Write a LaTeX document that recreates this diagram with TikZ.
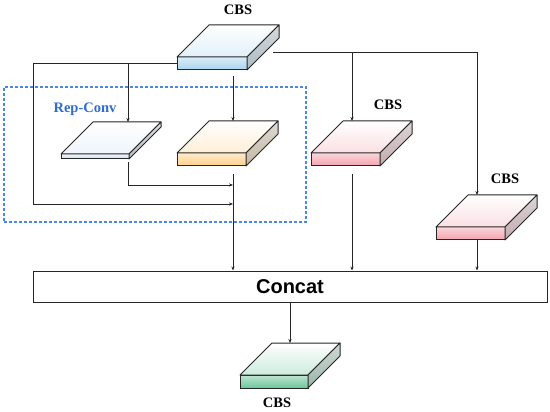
\documentclass[tikz,border=0pt]{standalone}
\usepackage{xcolor}
\usepackage{tikz}
\usetikzlibrary{positioning,calc,arrows.meta}
\usepackage{fontspec}
\setmainfont{Liberation Serif}
\newfontfamily\headfont{Liberation Sans}
\definecolor{inkdark}{HTML}{262626}
\definecolor{cbsblue}{HTML}{A9D4EF}
\definecolor{repblue}{HTML}{D3E2F6}
\definecolor{convorange}{HTML}{FFD08A}
\definecolor{cbspink}{HTML}{F3A3AE}
\definecolor{cbsgreen}{HTML}{6DC69B}
\definecolor{dashblue}{HTML}{4A86E8}
\definecolor{labelblue}{HTML}{2F6BD0}

\tikzset{
  slabfront/.style={draw=inkdark, line width=1pt, inner sep=0pt, outer sep=0pt},
  slabface/.style={draw=inkdark, line width=1pt, line join=round},
  conn/.style={draw=inkdark, line width=0.9pt},
  arr/.style={conn, -{Stealth[length=4pt,width=3.2pt]}},
  tag/.style={font=\bfseries\fontsize{14.5}{16}\selectfont},
}

% one flat block: name, x, y (front top left), width, thickness, colour
\newcommand{\slab}[6]{%
  \node[slabfront, anchor=north west, minimum width=#4pt, minimum height=#5pt,
        top color=#6!45, bottom color=#6] (#1) at (#2,#3) {};
  \draw[slabface, top color=white, bottom color=#6!35]
    (#1.north west) -- ++(32,-32) -- ++(#4,0) -- (#1.north east) -- cycle;
  \draw[slabface, top color=#6!25!gray!35, bottom color=#6!40!gray!75]
    (#1.north east) -- ++(32,-32) -- ++(0,#5) -- (#1.south east) -- cycle;
  \coordinate (#1-back) at ($(#1.north)+(32,-32)$);
}

\begin{document}
\begin{tikzpicture}[x=1pt, y=-1pt]
\useasboundingbox (0,0) rectangle (550,412);

% Rep-Conv group
\node[draw=dashblue, dash pattern=on 3pt off 2pt, line width=1.1pt,
      minimum width=302pt, minimum height=135pt, inner sep=0pt] (repBox) at (155,154.5) {};
\node[tag, text=labelblue] (lblRep) at (85,109) {Rep-Conv};

% blocks
\slab{cbsTop}{177}{57}{70}{13}{cbsblue}
\slab{repConv}{61}{154}{68}{5}{repblue}
\slab{convB}{177}{153}{69}{13}{convorange}
\slab{cbsA}{311}{153}{69}{13}{cbspink}
\slab{cbsB}{436}{227}{69}{13}{cbspink}
\slab{cbsOut}{240}{375}{68}{13}{cbsgreen}

\node[tag] (lblTop) at (238,10) {CBS};
\node[tag] (lblA) at (388,105) {CBS};
\node[tag] (lblB) at (505,179) {CBS};
\node[tag] (lblOut) at (277,403) {CBS};

\node[draw=inkdark, line width=1pt, minimum width=514pt, minimum height=31pt, inner sep=0pt,
      font=\headfont\bfseries\fontsize{20}{23}\selectfont] (concat) at (290,286.5) {Concat};

% columns and rows
\coordinate (colL) at (33,0);
\coordinate (colA) at (128,0);
\coordinate (colB) at (233,0);
\coordinate (colC) at (352,0);
\coordinate (colD) at (477,0);
\coordinate (rowRep) at (0,185);
\coordinate (rowSkip) at (0,204);
\coordinate (topR) at (273,52);

% connectors
\draw[arr] (cbsTop.west) -| (colL |- rowSkip) -- (colB |- rowSkip);
\draw[arr] (cbsTop.west -| colA) -- (colA |- repConv-back);
\draw[arr, shorten <=6pt] (cbsTop.south -| colB) -- (colB |- convB-back);
\draw[arr, shorten <=3pt] (repConv.south -| colA) |- (colB |- rowRep);
\draw[arr, shorten <=8pt] (convB.south -| colB) -- (colB |- concat.north);
\draw[conn] (topR) -- (topR -| colD);
\draw[arr] (topR -| colC) -- (colC |- cbsA-back);
\draw[arr] (topR -| colD) -- (colD |- cbsB-back);
\draw[arr, shorten <=8pt] (cbsA.south -| colC) -- (colC |- concat.north);
\draw[arr] (cbsB.south -| colD) -- (colD |- concat.north);
\draw[arr] (concat.south) -- (concat.south |- cbsOut-back);
\end{tikzpicture}
\end{document}
